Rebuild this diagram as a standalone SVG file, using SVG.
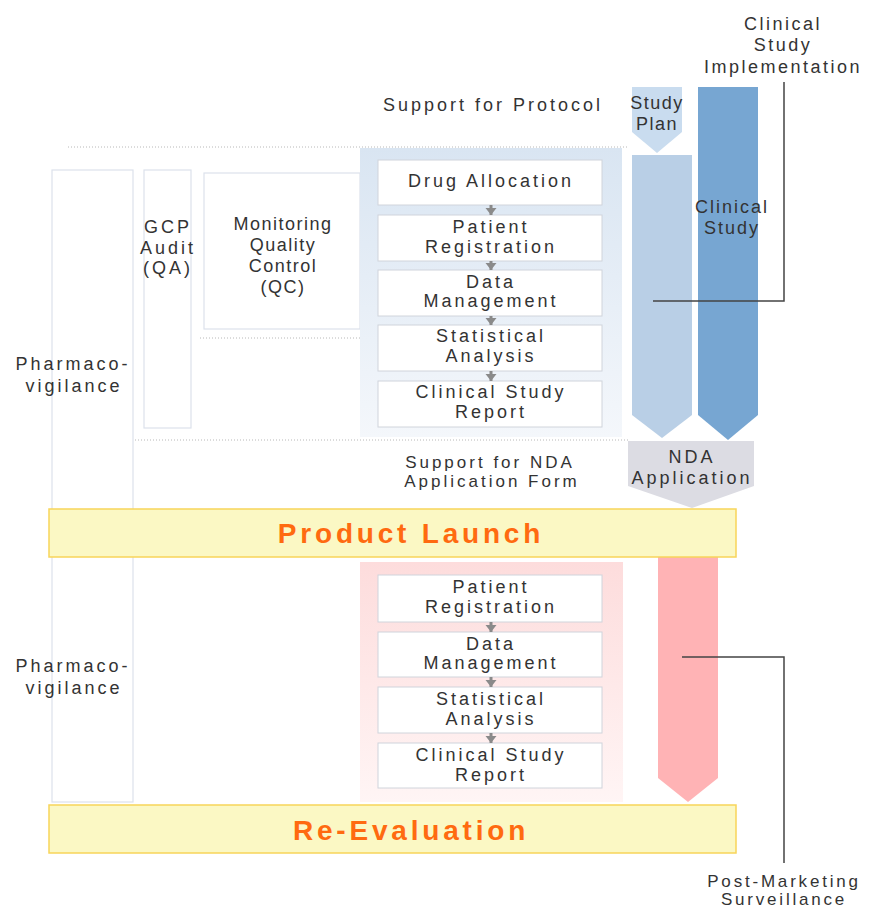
<svg xmlns="http://www.w3.org/2000/svg" width="873" height="909" viewBox="0 0 873 909">
<defs>
<linearGradient id="gBlue" x1="0" y1="0" x2="0" y2="1">
<stop offset="0" stop-color="#d9e5f2"/>
<stop offset="1" stop-color="#f4f7fb"/>
</linearGradient>
<linearGradient id="gPink" x1="0" y1="0" x2="0" y2="1">
<stop offset="0" stop-color="#fddcdc"/>
<stop offset="1" stop-color="#fff5f5"/>
</linearGradient>
<marker id="ah" markerUnits="userSpaceOnUse" markerWidth="10" markerHeight="12" refX="7" refY="5.5" orient="auto">
<path d="M0,0 L7,5.5 L0,11 z" fill="#8a8a8a"/>
</marker>
</defs>
<style>
text{font-family:"Liberation Sans",Arial,sans-serif;font-size:18px;fill:#333333;letter-spacing:3px;text-anchor:middle}
.box{fill:#ffffff;stroke:#d0d4db;stroke-width:1}
.side{fill:#ffffff;stroke:#dce2ec;stroke-width:1.2}
.dot{stroke:#b8b8b8;stroke-width:1;stroke-dasharray:1 2;fill:none}
.bar{fill:#fbf8c4;stroke:#f8d55a;stroke-width:1.5}
.big{font-size:28px;font-weight:bold;fill:#ff6a10;letter-spacing:3.8px}
.sm{font-size:17px}
.flow{stroke:#8a8a8a;stroke-width:3;fill:none;marker-end:url(#ah)}
.call{stroke:#444;stroke-width:1.5;fill:none}
</style>

<!-- dotted separators -->
<line class="dot" x1="68" y1="147" x2="627" y2="147"/>
<line class="dot" x1="200" y1="338" x2="360" y2="338"/>
<line class="dot" x1="135" y1="440" x2="628" y2="440"/>

<g id="pharmaco1">
<rect class="side" x="52" y="170" width="81" height="345"/>
<text x="73" y="370">Pharmaco-</text>
<text x="74" y="392">vigilance</text>
</g>
<g id="pharmaco2">
<rect class="side" x="52" y="552" width="81" height="250"/>
<text x="73" y="672">Pharmaco-</text>
<text x="74" y="694">vigilance</text>
</g>
<g id="gcp-audit">
<rect class="side" x="144" y="170" width="47" height="258"/>
<text x="168" y="233">GCP</text>
<text x="168" y="254">Audit</text>
<text x="168" y="274">(QA)</text>
</g>
<g id="monitoring">
<rect class="side" x="204" y="173" width="156" height="156"/>
<text x="283" y="230" style="letter-spacing:1.5px">Monitoring</text>
<text x="283" y="251" style="letter-spacing:1.5px">Quality</text>
<text x="283" y="272" style="letter-spacing:1.5px">Control</text>
<text x="283" y="293" style="letter-spacing:1.5px">(QC)</text>
</g>

<g id="protocol-label">
<text x="493" y="111">Support for Protocol</text>
</g>

<g id="blue-panel">
<rect x="360" y="148" width="262" height="289" fill="url(#gBlue)"/>
</g>
<g id="drug-allocation">
<rect class="box" x="378" y="160" width="224" height="45"/>
<text x="491" y="187">Drug Allocation</text>
</g>
<g id="patient-registration">
<rect class="box" x="378" y="215" width="224" height="46"/>
<text x="491" y="233">Patient</text>
<text x="491" y="253">Registration</text>
</g>
<g id="data-management">
<rect class="box" x="378" y="270" width="224" height="46"/>
<text x="491" y="288">Data</text>
<text x="491" y="307">Management</text>
</g>
<g id="statistical-analysis">
<rect class="box" x="378" y="325" width="224" height="46"/>
<text x="491" y="342">Statistical</text>
<text x="491" y="362">Analysis</text>
</g>
<g id="clinical-study-report">
<rect class="box" x="378" y="381" width="224" height="46"/>
<text x="491" y="398">Clinical Study</text>
<text x="491" y="418">Report</text>
</g>

<g id="study-plan">
<polygon points="632,87 682,87 682,132 657,153 632,132" fill="#c9dcef"/>
<text x="657" y="109" style="letter-spacing:1.5px">Study</text>
<text x="657" y="130" style="letter-spacing:1.5px">Plan</text>
</g>
<g id="light-column">
<polygon points="632,155 692,155 692,415 662,438 632,415" fill="#b9cfe6"/>
</g>
<g id="clinical-study">
<polygon points="698,87 758,87 758,415 728,440 698,415" fill="#77a6d2"/>
<text x="732" y="213" style="letter-spacing:2px">Clinical</text>
<text x="732" y="234" style="letter-spacing:2px">Study</text>
</g>
<g id="clinical-study-implementation">
<text x="783" y="30" style="letter-spacing:2.5px">Clinical</text>
<text x="783" y="51" style="letter-spacing:2.5px">Study</text>
<text x="783" y="73" style="letter-spacing:2.5px">Implementation</text>
</g>

<g id="nda-label">
<text class="sm" x="490" y="468">Support for NDA</text>
<text class="sm" x="492" y="487">Application Form</text>
</g>
<g id="nda-application">
<polygon points="628,441 754,441 754,486 692,508 628,486" fill="#dcdce3"/>
<text x="692" y="463">NDA</text>
<text x="692" y="484">Application</text>
</g>

<g id="pms-column">
<polygon points="658,552 718,552 718,778 688,802 658,778" fill="#ffb3b5"/>
</g>

<g id="product-launch">
<rect class="bar" x="49" y="509" width="687" height="48"/>
<text class="big" x="411" y="543">Product Launch</text>
</g>

<g id="pink-panel">
<rect x="360" y="562" width="263" height="240" fill="url(#gPink)"/>
</g>
<g id="pms-patient-registration">
<rect class="box" x="378" y="575" width="224" height="47"/>
<text x="491" y="593">Patient</text>
<text x="491" y="613">Registration</text>
</g>
<g id="pms-data-management">
<rect class="box" x="378" y="632" width="224" height="45"/>
<text x="491" y="650">Data</text>
<text x="491" y="669">Management</text>
</g>
<g id="pms-statistical-analysis">
<rect class="box" x="378" y="687" width="224" height="46"/>
<text x="491" y="705">Statistical</text>
<text x="491" y="725">Analysis</text>
</g>
<g id="pms-clinical-study-report">
<rect class="box" x="378" y="743" width="224" height="45"/>
<text x="491" y="761">Clinical Study</text>
<text x="491" y="781">Report</text>
</g>

<g id="re-evaluation">
<rect class="bar" x="49" y="805" width="687" height="48"/>
<text class="big" x="411" y="840">Re-Evaluation</text>
</g>

<g id="post-marketing-surveillance">
<text class="sm" x="784" y="887" style="letter-spacing:2.8px">Post-Marketing</text>
<text class="sm" x="784" y="905" style="letter-spacing:2.8px">Surveillance</text>
</g>

<g id="connectors">
<line class="flow" x1="491" y1="205" x2="491" y2="215"/>
<line class="flow" x1="491" y1="261" x2="491" y2="270"/>
<line class="flow" x1="491" y1="316" x2="491" y2="325"/>
<line class="flow" x1="491" y1="371" x2="491" y2="381"/>
<line class="flow" x1="491" y1="622" x2="491" y2="632"/>
<line class="flow" x1="491" y1="677" x2="491" y2="687"/>
<line class="flow" x1="491" y1="733" x2="491" y2="743"/>
<polyline class="call" points="653,301 784,301 784,82"/>
<polyline class="call" points="682,657 784,657 784,863"/>
</g>
</svg>
